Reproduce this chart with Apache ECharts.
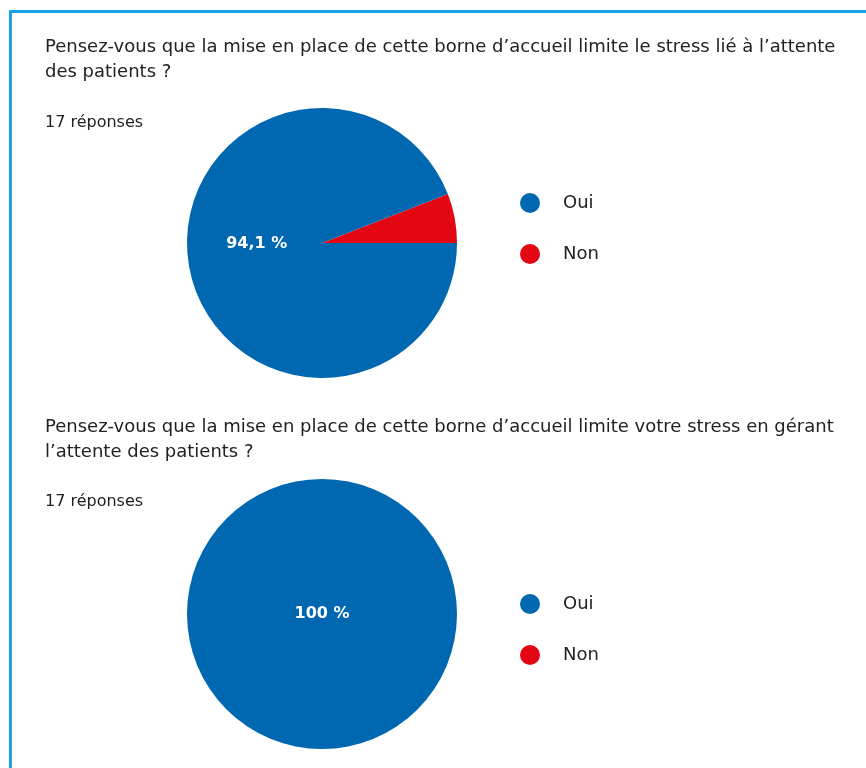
<!DOCTYPE html>
<html><head><meta charset="utf-8">
<script src="https://cdn.jsdelivr.net/npm/echarts@6/dist/echarts.min.js"></script>
<style>html,body{margin:0;padding:0;background:#fff}#c{width:866px;height:768px}</style>
</head><body><div id="c"></div>
<script>
const categories = ['Oui', 'Non'];
const question1 = "Pensez-vous que la mise en place de cette borne d\u2019accueil limite le stress lié à l\u2019attente\ndes patients ?";
const question2 = "Pensez-vous que la mise en place de cette borne d\u2019accueil limite votre stress en gérant\nl\u2019attente des patients ?";
const responses1 = '17 réponses';
const responses2 = '17 réponses';
const values1 = [94.1, 5.9];
const values2 = [100, 0];
const colors = ['#0067b1', '#e30613'];
const FONT = '"DejaVu Sans"';

function pieData(vals) {
  // draw "Non" first so it sits just above the 3 o'clock line
  return [
    { name: categories[1], value: vals[1], itemStyle: { color: colors[1] }, label: { show: false } },
    { name: categories[0], value: vals[0], itemStyle: { color: colors[0] } }
  ];
}

const titleStyle = { fontFamily: FONT, fontSize: 18, fontWeight: 'normal', color: '#222', lineHeight: 25 };
const subStyle = { fontFamily: FONT, fontSize: 16, fontWeight: 'normal', color: '#222', lineHeight: 20 };
const legendBase = { data: categories, orient: 'vertical', left: 520, padding: 0, icon: 'circle', itemWidth: 20, itemHeight: 20, itemGap: 31,
  textStyle: { fontFamily: FONT, fontSize: 18, color: '#222', padding: [0, 0, 0, 18] }, selectedMode: false };

const chart = echarts.init(document.getElementById('c'), null, { renderer: 'canvas' });
chart.setOption({
  backgroundColor: '#fff',
  animation: false,
  title: [
    { text: question1, left: 45, top: 35, padding: 0, textStyle: titleStyle },
    { text: responses1, left: 45, top: 113, padding: 0, textStyle: subStyle },
    { text: question2, left: 45, top: 415, padding: 0, textStyle: titleStyle },
    { text: responses2, left: 45, top: 492, padding: 0, textStyle: subStyle }
  ],
  legend: [
    Object.assign({}, legendBase, { top: 193 }),
    Object.assign({}, legendBase, { top: 594 })
  ],
  series: [
    { type: 'pie', center: [322, 243], radius: 135, startAngle: 0, clockwise: false, silent: true,
      label: { show: true, position: 'inside', formatter: p => String(p.value).replace('.', ',') + ' %', color: '#fff', fontFamily: FONT, fontWeight: 'bold', fontSize: 16, offset: [4, -12] },
      labelLine: { show: false }, itemStyle: { borderWidth: 0 },
      data: pieData(values1) },
    { type: 'pie', center: [322, 614], radius: 135, startAngle: 0, clockwise: false, silent: true, stillShowZeroSum: true,
      label: { show: true, position: 'center', formatter: p => p.value + ' %', color: '#fff', fontFamily: FONT, fontWeight: 'bold', fontSize: 16 },
      labelLine: { show: false }, itemStyle: { borderWidth: 0 },
      data: pieData(values2) }
  ],
  graphic: [
    { type: 'rect', shape: { x: 9, y: 10, width: 860, height: 3 }, style: { fill: '#1aa3e3' }, silent: true },
    { type: 'rect', shape: { x: 9, y: 10, width: 3, height: 770 }, style: { fill: '#1aa3e3' }, silent: true }
  ]
});
</script></body></html>
